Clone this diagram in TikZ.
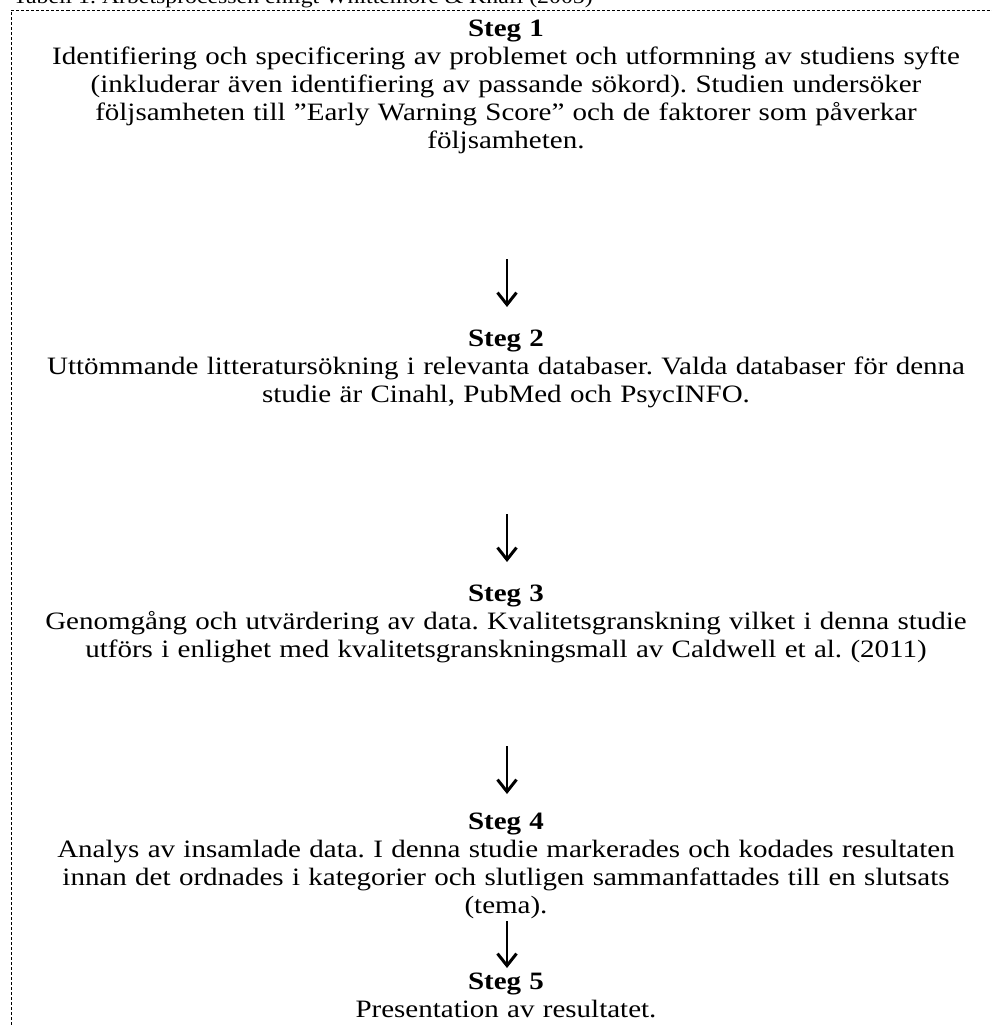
\documentclass[tikz,border=0pt]{standalone}
\usepackage{fontspec}
\setmainfont{Liberation Serif}[FakeStretch=1.16]
\usetikzlibrary{arrows.meta}
\frenchspacing
\begin{document}
\begin{tikzpicture}[x=1pt,y=-1pt,
  stepbox/.style={anchor=base, inner sep=0pt, text width=985pt, align=center,
    font=\fontsize{25}{28}\selectfont},
  flow/.style={line width=1.9pt, -{Straight Barb[length=12pt,width=19pt,line width=3pt]}},
  frame/.style={dash pattern=on 3pt off 2pt, line width=0.9pt}]
\useasboundingbox (0,0) rectangle (992,1025);
\draw[frame] (11,1040) -- (11,10.5) -- (1005,10.5);
\node[anchor=base west, inner sep=0pt, font=\fontsize{20.5}{24}\selectfont] (title) at (13,4)
  {Tabell 1. Arbetsprocessen enligt Whittemore \& Knafl (2005)};
\node[stepbox] (s1) at (506,37) {\textbf{Steg 1}\\
  Identifiering och specificering av problemet och utformning av studiens syfte\\
  (inkluderar även identifiering av passande sökord). Studien undersöker\\
  följsamheten till ”Early Warning Score” och de faktorer som påverkar\\
  följsamheten.};
\node[stepbox] (s2) at (506,346) {\textbf{Steg 2}\\
  Uttömmande litteratursökning i relevanta databaser. Valda databaser för denna\\
  studie är Cinahl, PubMed och PsycINFO.};
\node[stepbox] (s3) at (506,601) {\textbf{Steg 3}\\
  Genomgång och utvärdering av data. Kvalitetsgranskning vilket i denna studie\\
  utförs i enlighet med kvalitetsgranskningsmall av Caldwell et al. (2011)};
\node[stepbox] (s4) at (506,829) {\textbf{Steg 4}\\
  Analys av insamlade data. I denna studie markerades och kodades resultaten\\
  innan det ordnades i kategorier och slutligen sammanfattades till en slutsats\\
  (tema).};
\node[stepbox] (s5) at (506,989) {\textbf{Steg 5}\\
  Presentation av resultatet.};
\coordinate (a1s) at (507,259); \coordinate (a1e) at (507,307);
\coordinate (a2s) at (507,514); \coordinate (a2e) at (507,562);
\coordinate (a3s) at (507,746); \coordinate (a3e) at (507,794);
\coordinate (a4s) at (507,921); \coordinate (a4e) at (507,968);
\draw[flow] (a1s) -- (a1e);
\draw[flow] (a2s) -- (a2e);
\draw[flow] (a3s) -- (a3e);
\draw[flow] (a4s) -- (a4e);
\end{tikzpicture}
\end{document}
